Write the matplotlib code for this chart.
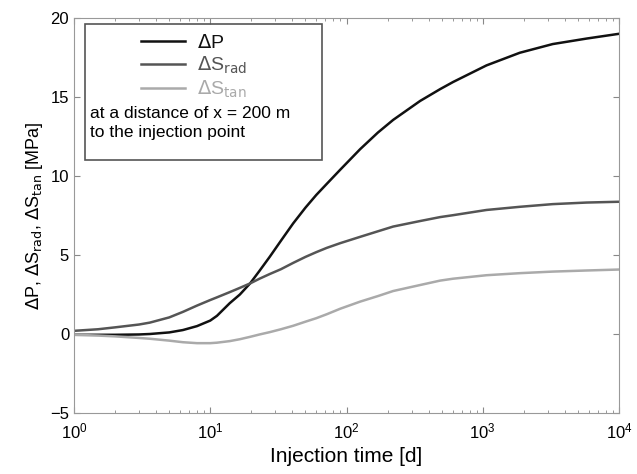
import numpy as np
import matplotlib
matplotlib.use("Agg")
import matplotlib.pyplot as plt
from matplotlib.patches import Rectangle

plt.rcParams['font.family'] = ['Liberation Sans', 'DejaVu Sans']

# values
t_days = [1, 1.5, 2, 3, 3.6, 5, 6.3, 8, 10, 11.2, 13.9, 16.5, 19.6, 23, 27.4, 33, 40.6, 50,
          60, 71.6, 90, 126, 170, 220, 347, 487, 606, 1065, 1870, 3260, 5800, 10000]
dP = [-0.05, -0.05, -0.05, -0.03, 0.0, 0.1, 0.25, 0.5, 0.85, 1.15, 1.95, 2.5, 3.2, 4.0, 4.9,
      5.9, 7.0, 8.0, 8.8, 9.5, 10.4, 11.7, 12.75, 13.55, 14.75, 15.5, 15.95, 17.0, 17.8,
      18.35, 18.7, 19.0]
dS_rad = [0.2, 0.3, 0.42, 0.6, 0.72, 1.05, 1.4, 1.8, 2.15, 2.32, 2.65, 2.92, 3.2, 3.5, 3.8,
          4.1, 4.5, 4.88, 5.18, 5.45, 5.75, 6.15, 6.5, 6.8, 7.15, 7.4, 7.52, 7.85, 8.05, 8.22,
          8.32, 8.37]
dS_tan = [-0.05, -0.1, -0.15, -0.25, -0.3, -0.42, -0.52, -0.58, -0.58, -0.55, -0.45, -0.33,
          -0.18, -0.03, 0.12, 0.3, 0.52, 0.78, 1.0, 1.25, 1.6, 2.05, 2.4, 2.72, 3.1, 3.38,
          3.5, 3.72, 3.85, 3.95, 4.02, 4.08]

c_p, c_rad, c_tan = '#111111', '#555555', '#aaaaaa'

fig = plt.figure(figsize=(6.37, 4.74), dpi=100)
ax = fig.add_axes([74/637, 1 - 413/474, 545/637, 395/474])

l1, = ax.plot(t_days, dP, color=c_p, lw=1.8)
l2, = ax.plot(t_days, dS_rad, color=c_rad, lw=1.8)
l3, = ax.plot(t_days, dS_tan, color=c_tan, lw=1.8)

ax.set_xscale('log')
ax.set_xlim(1, 1e4)
ax.set_ylim(-5, 20)
ax.set_yticks([-5, 0, 5, 10, 15, 20])
ax.tick_params(which='both', direction='in', top=True, right=True, color='#888888', labelsize=12)
ax.tick_params(axis='x', pad=6)
ax.tick_params(which='major', length=4)
ax.tick_params(which='minor', length=2)
for s in ax.spines.values():
    s.set_color('#999999')

ax.set_xlabel('Injection time [d]', fontsize=15)
ax.set_ylabel(r'$\Delta$P, $\Delta$S$_{\rm rad}$, $\Delta$S$_{\rm tan}$ [MPa]', fontsize=13)

# legend box with note
ax.add_patch(Rectangle((0.020, 0.64), 0.435, 0.345, transform=ax.transAxes,
                       fill=False, edgecolor='#555555', lw=1.2, zorder=5))
leg = ax.legend([l1, l2, l3],
                [r'$\Delta$P', r'$\Delta$S$_{\rm rad}$', r'$\Delta$S$_{\rm tan}$'],
                loc='upper left', bbox_to_anchor=(0.09, 1.005), frameon=False,
                fontsize=14, handlelength=2.3, handletextpad=0.6, labelspacing=0.15)
for txt, c in zip(leg.get_texts(), [c_p, c_rad, c_tan]):
    txt.set_color(c)
ax.text(0.03, 0.735, 'at a distance of x = 200 m\nto the injection point',
        transform=ax.transAxes, fontsize=12.5, va='center', ha='left', linespacing=1.35)

fig.savefig('out.png', dpi=100)
